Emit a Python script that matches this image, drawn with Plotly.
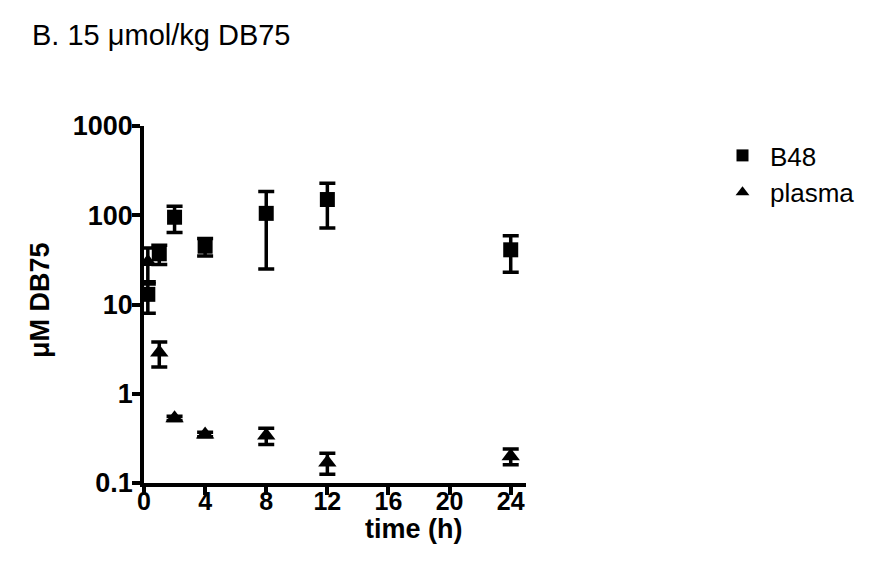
import plotly.graph_objects as go

# Data
time_h = [0.25, 1, 2, 4, 8, 12, 24]
b48_mean = [13, 37, 95, 45, 105, 150, 41]
b48_sd = [5, 9, 31, 10, 80, 78, 18]
plasma_mean = [30, 2.9, 0.53, 0.35, 0.34, 0.17, 0.20]
plasma_sd = [13, 0.9, 0.03, 0.02, 0.07, 0.045, 0.04]

x_ticks = [0, 4, 8, 12, 16, 20, 24]
y_ticks = [0.1, 1, 10, 100, 1000]
y_ticktext = ["0.1", "1", "10", "100", "1000"]

FONT = "Liberation Sans, Arial, sans-serif"
W, H = 869, 571
L, R, T, B = 136, 351, 118, 96
PW, PH = W - L - R, H - T - B


def px(xp):
    return (xp - L) / PW


def py(yp):
    return 1 - (yp - T) / PH


fig = go.Figure()
fig.add_trace(go.Scatter(
    x=time_h, y=b48_mean, name="B48", mode="markers", legendgroup="a",
    marker=dict(symbol="square", size=15, color="black"),
    error_y=dict(type="data", array=b48_sd, visible=True,
                 color="black", thickness=3.5, width=8),
))
fig.add_trace(go.Scatter(
    x=time_h, y=plasma_mean, name="plasma", mode="markers", legendgroup="b",
    marker=dict(symbol="triangle-up", size=16, color="black"),
    error_y=dict(type="data", array=plasma_sd, visible=True,
                 color="black", thickness=3.5, width=8),
))

fig.update_layout(
    width=W, height=H,
    margin=dict(l=L, r=R, t=T, b=B),
    plot_bgcolor="white", paper_bgcolor="white",
    font=dict(family=FONT, color="black"),
    showlegend=True,
    legend=dict(x=px(707), y=py(124), xanchor="left", yanchor="top",
                font=dict(size=26, family=FONT, color="black"),
                itemsizing="constant", itemwidth=45,
                traceorder="grouped", tracegroupgap=0,
                bgcolor="rgba(0,0,0,0)"),
    annotations=[
        dict(text="B. 15 \u03bcmol/kg DB75", x=px(22), y=py(27),
             xref="paper", yref="paper", showarrow=False,
             xanchor="left", yanchor="middle",
             font=dict(size=29, family=FONT)),
        dict(text="time (h)", x=px(406), y=py(521),
             xref="paper", yref="paper", showarrow=False,
             xanchor="center", yanchor="middle",
             font=dict(size=27, family=FONT, weight="bold")),
        dict(text="\u03bcM DB75", x=px(32), y=py(292), textangle=-90,
             xref="paper", yref="paper", showarrow=False,
             xanchor="center", yanchor="middle",
             font=dict(size=27, family=FONT, weight="bold")),
    ],
)

fig.update_xaxes(
    range=[0, 25], tickvals=x_ticks, ticktext=[str(v) for v in x_ticks],
    showline=True, linewidth=3.5, linecolor="black", mirror=False,
    ticks="outside", ticklen=8, tickwidth=3.5, tickcolor="black",
    showgrid=False, zeroline=False, ticklabelstandoff=-15,
    tickfont=dict(size=25, family=FONT, weight="bold"),
)
fig.update_yaxes(
    type="log", range=[-1, 3], tickvals=y_ticks, ticktext=y_ticktext,
    showline=True, linewidth=3.5, linecolor="black", mirror=False,
    ticks="outside", ticklen=8, tickwidth=3.5, tickcolor="black",
    showgrid=False, zeroline=False, ticklabelstandoff=-6,
    tickfont=dict(size=27, family=FONT, weight="bold"),
)

fig.write_html("out.html")
